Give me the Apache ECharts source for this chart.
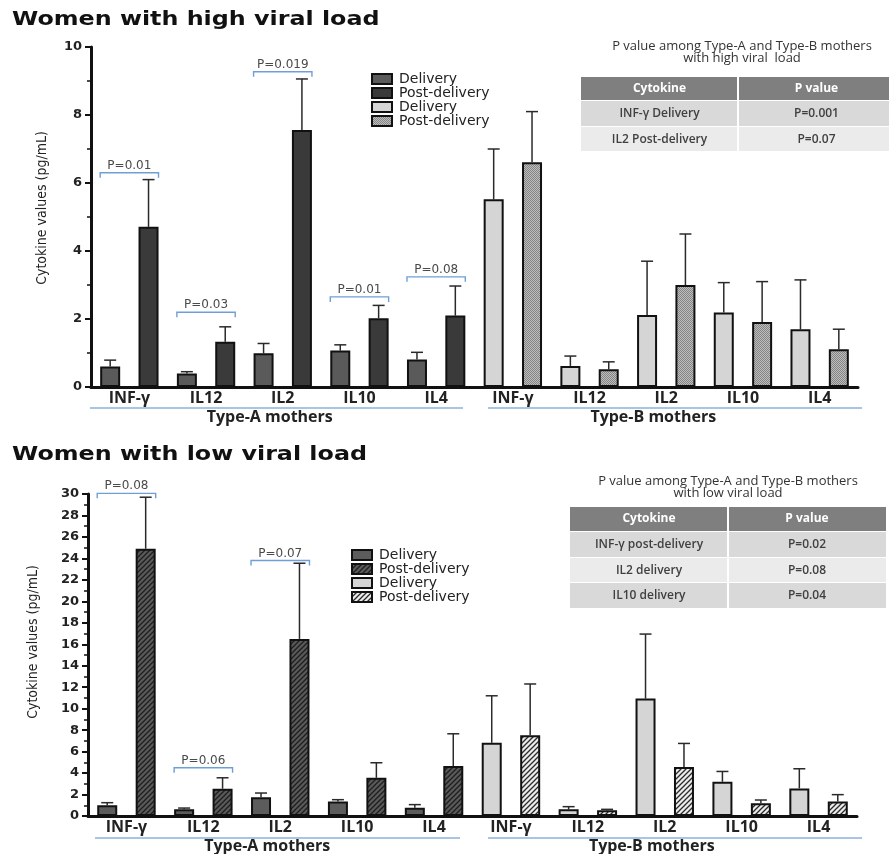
<!DOCTYPE html>
<html>
<head>
<meta charset="utf-8">
<script src="https://cdn.jsdelivr.net/npm/echarts@6/dist/echarts.min.js"></script>
<style>
  html, body { margin: 0; padding: 0; background: #fff; }
  #chart { width: 889px; height: 854px; }
</style>
</head>
<body>
<div id="chart"></div>
<script>
// ---- data ----
const cytokines = ['INF-γ', 'IL12', 'IL2', 'IL10', 'IL4'];
const groupNames = ['Type-A mothers', 'Type-B mothers'];
const legendLabels = ['Delivery', 'Post-delivery', 'Delivery', 'Post-delivery'];
const panelTitles = ['Women with high viral load', 'Women with low viral load'];

// high viral load: mean and SD (pg/mL)
const highADelivery = [0.60, 0.40, 0.99, 1.07, 0.81];
const highADeliverySD = [0.19, 0.05, 0.29, 0.17, 0.21];
const highAPost = [4.71, 1.33, 7.56, 2.02, 2.10];
const highAPostSD = [1.39, 0.44, 1.50, 0.38, 0.87];
const highBDelivery = [5.52, 0.62, 2.12, 2.19, 1.70];
const highBDeliverySD = [1.48, 0.29, 1.58, 0.88, 1.45];
const highBPost = [6.61, 0.52, 3.00, 1.91, 1.11];
const highBPostSD = [1.49, 0.22, 1.50, 1.19, 0.59];

// low viral load: mean and SD (pg/mL)
const lowADelivery = [1.00, 0.62, 1.74, 1.34, 0.78];
const lowADeliverySD = [0.24, 0.12, 0.40, 0.18, 0.28];
const lowAPost = [24.9, 2.54, 16.5, 3.56, 4.65];
const lowAPostSD = [4.8, 1.02, 7.05, 1.40, 3.01];
const lowBDelivery = [6.82, 0.62, 10.94, 3.19, 2.57];
const lowBDeliverySD = [4.38, 0.25, 6.01, 0.96, 1.83];
const lowBPost = [7.53, 0.53, 4.56, 1.18, 1.34];
const lowBPostSD = [4.77, 0.09, 2.20, 0.31, 0.65];

// within-group comparisons: cytokine index, bracket height, p value
const highBrackets = [[0, 6.3, 'P=0.01'], [1, 2.2, 'P=0.03'], [2, 9.27, 'P=0.019'], [3, 2.65, 'P=0.01'], [4, 3.24, 'P=0.08']];
const lowBrackets = [[0, 30.06, 'P=0.08'], [1, 4.5, 'P=0.06'], [2, 23.8, 'P=0.07']];

// between-group p values
const highTableTitle = ['P value among Type-A and Type-B mothers', 'with high viral  load'];
const highTableRows = [['INF-γ Delivery', 'P=0.001'], ['IL2 Post-delivery', 'P=0.07']];
const lowTableTitle = ['P value among Type-A and Type-B mothers', 'with low viral load'];
const lowTableRows = [['INF-γ post-delivery', 'P=0.02'], ['IL2 delivery', 'P=0.08'], ['IL10 delivery', 'P=0.04']];

const tableHeader = ['Cytokine', 'P value'];

// ---- fill patterns ----
function dotPattern(bg, fg) {
  const c = document.createElement('canvas');
  c.width = 2; c.height = 2;
  const g = c.getContext('2d');
  g.fillStyle = bg; g.fillRect(0, 0, 2, 2);
  g.fillStyle = fg; g.fillRect(0, 0, 1, 1); g.fillRect(1, 1, 1, 1);
  return { image: c, repeat: 'repeat' };
}
function hatchPattern(bg, fg, step, lw) {
  const c = document.createElement('canvas');
  c.width = step; c.height = step;
  const g = c.getContext('2d');
  g.fillStyle = bg; g.fillRect(0, 0, step, step);
  g.strokeStyle = fg; g.lineWidth = lw;
  g.beginPath();
  g.moveTo(-1, step + 1); g.lineTo(step + 1, -1);
  g.moveTo(-1, 1); g.lineTo(1, -1);
  g.moveTo(step - 1, step + 1); g.lineTo(step + 1, step - 1);
  g.stroke();
  return { image: c, repeat: 'repeat' };
}

const fills = {
  high: ['#5a5a5a', '#3a3a3a', '#d5d5d5', dotPattern('#bdbdbd', '#858585')],
  low: ['#5c5c5c', hatchPattern('#5a5a5a', '#1e1e1e', 5, 1.3), '#d5d5d5', hatchPattern('#ececec', '#2a2a2a', 5, 1.3)]
};

// ---- helpers ----
const SLOTS = 20;
const slotNames = Array.from({ length: SLOTS }, (_, i) => 's' + i);
const BAR_W = 20;
const NARROW = '"DejaVu Sans Condensed", "Liberation Sans", sans-serif';

function slotData(values, offset) {
  const arr = new Array(SLOTS).fill('-');
  values.forEach((v, i) => { arr[offset + 2 * i] = v; });
  return arr;
}
function errData(values, sd, offset) {
  return values.map((v, i) => [offset + 2 * i, v, v + sd[i]]);
}

function errorBarItem(params, api) {
  const x = api.value(0);
  const p0 = api.coord([x, api.value(1)]);
  const p1 = api.coord([x, api.value(2)]);
  const w = 6;
  const st = { stroke: '#2a2a2a', lineWidth: 1.5 };
  return {
    type: 'group',
    children: [
      { type: 'line', shape: { x1: p0[0], y1: p0[1], x2: p1[0], y2: p1[1] }, style: st },
      { type: 'line', shape: { x1: p1[0] - w, y1: p1[1], x2: p1[0] + w, y2: p1[1] }, style: st }
    ]
  };
}

function bracketRenderer(list) {
  return function (params, api) {
    const a = api.value(0), b = api.value(1), y = api.value(2);
    const pa = api.coord([a, y]), pb = api.coord([b, y]);
    const x1 = pa[0] - BAR_W / 2, x2 = pb[0] + BAR_W / 2, yy = pa[1];
    const st = { stroke: '#6f9fd6', lineWidth: 1.4, fill: null };
    return {
      type: 'group',
      children: [
        { type: 'polyline', shape: { points: [[x1, yy + 5], [x1, yy], [x2, yy], [x2, yy + 5]] }, style: st },
        {
          type: 'text',
          style: {
            x: (x1 + x2) / 2, y: yy - 7, text: list[params.dataIndex][2],
            align: 'center', verticalAlign: 'middle',
            font: '12px "DejaVu Sans"', fill: '#4a4a4a'
          }
        }
      ]
    };
  };
}

function buildPanel(gi, key, sets, brackets, yMax, interval) {
  const names = ['A Delivery', 'A Post-delivery', 'B Delivery', 'B Post-delivery'].map(n => key + ' ' + n);
  const offsets = [0, 1, 10, 11];
  const series = [];
  sets.forEach((s, k) => {
    series.push({
      name: names[k], type: 'bar', xAxisIndex: gi * 3, yAxisIndex: gi,
      data: slotData(s[0], offsets[k]), barWidth: BAR_W, barGap: '-100%',
      itemStyle: { color: fills[key][k], borderColor: '#111', borderWidth: 2 },
      z: 2
    });
  });
  sets.forEach((s, k) => {
    series.push({
      type: 'custom', xAxisIndex: gi * 3, yAxisIndex: gi, renderItem: errorBarItem,
      data: errData(s[0], s[1], offsets[k]), clip: false, z: 1
    });
  });
  series.push({
    type: 'custom', xAxisIndex: gi * 3, yAxisIndex: gi, renderItem: bracketRenderer(brackets),
    data: brackets.map(b => [2 * b[0], 2 * b[0] + 1, b[1]]), clip: false, z: 3
  });

  const xAxes = [
    {
      type: 'category', gridIndex: gi, data: slotNames, position: 'bottom',
      axisLine: { lineStyle: { color: '#111', width: 3 } },
      axisTick: { show: false }, axisLabel: { show: false }
    },
    {
      type: 'category', gridIndex: gi, data: cytokines.concat(cytokines), position: 'bottom', offset: 0,
      axisLine: { show: false }, axisTick: { show: false },
      axisLabel: { margin: 3, fontFamily: 'Open Sans', fontWeight: 'bold', fontSize: 16, color: '#222' }
    },
    {
      type: 'category', gridIndex: gi, data: groupNames, position: 'bottom', offset: 0,
      axisLine: { show: false }, axisTick: { show: false },
      axisLabel: { margin: 22, padding: [0, 26, 0, 0], fontFamily: 'Open Sans', fontWeight: 'bold', fontSize: 16, color: '#222' }
    }
  ];
  const yAxis = {
    type: 'value', gridIndex: gi, min: 0, max: yMax, interval: interval,
    name: 'Cytokine values (pg/mL)', nameLocation: 'middle', nameRotate: 90, nameGap: gi === 0 ? 42 : 48,
    nameTextStyle: { fontFamily: NARROW, fontSize: 14, color: '#222', padding: gi === 0 ? [0, 0, 0, 18] : [0, 0, 0, 26] },
    axisLine: { show: true, lineStyle: { color: '#111', width: 3 } },
    axisTick: { show: true, length: 6, lineStyle: { color: '#111', width: 2 } },
    minorTick: { show: true, splitNumber: 2, length: 4, lineStyle: { color: '#111', width: 1.5 } },
    splitLine: { show: false },
    axisLabel: { margin: 9, fontFamily: 'DejaVu Sans', fontWeight: 'bold', fontSize: 13, color: '#222' }
  };
  return { series, xAxes, yAxis, names };
}

const high = buildPanel(0, 'high', [
  [highADelivery, highADeliverySD], [highAPost, highAPostSD],
  [highBDelivery, highBDeliverySD], [highBPost, highBPostSD]
], highBrackets, 10, 2);
const low = buildPanel(1, 'low', [
  [lowADelivery, lowADeliverySD], [lowAPost, lowAPostSD],
  [lowBDelivery, lowBDeliverySD], [lowBPost, lowBPostSD]
], lowBrackets, 30, 2);

function legendFor(panel, left, top) {
  const map = {};
  panel.names.forEach((n, i) => { map[n] = legendLabels[i]; });
  return {
    data: panel.names, left: left, top: top, orient: 'vertical', icon: 'rect',
    itemWidth: 20, itemHeight: 10, itemGap: 0, selectedMode: false,
    formatter: n => map[n],
    textStyle: { fontFamily: 'DejaVu Sans', fontSize: 14, color: '#222', lineHeight: 13.4, padding: [0, 0, 0, 2] }
  };
}

function tableGraphic(x, y, w1, w2, headH, rowHs, titleLines, titleX, titleY, rows) {
  const els = [];
  titleLines.forEach((t, i) => {
    els.push({ type: 'text', style: { x: titleX, y: titleY + i * 12.5, text: t, align: 'center', verticalAlign: 'middle', font: '13px "Open Sans"', fill: '#333' } });
  });
  els.push({ type: 'rect', shape: { x: x, y: y, width: w1 - 1, height: headH }, style: { fill: '#7f7f7f' } });
  els.push({ type: 'rect', shape: { x: x + w1 + 1, y: y, width: w2 - 1, height: headH }, style: { fill: '#7f7f7f' } });
  els.push({ type: 'text', style: { x: x + w1 / 2, y: y + headH / 2, text: tableHeader[0], align: 'center', verticalAlign: 'middle', font: 'bold 12px "Open Sans"', fill: '#fff' } });
  els.push({ type: 'text', style: { x: x + w1 + w2 / 2, y: y + headH / 2, text: tableHeader[1], align: 'center', verticalAlign: 'middle', font: 'bold 12px "Open Sans"', fill: '#fff' } });
  let yy = y + headH + 1;
  rows.forEach((r, i) => {
    const h = rowHs[i];
    const bg = i % 2 === 0 ? '#d9d9d9' : '#ebebeb';
    els.push({ type: 'rect', shape: { x: x, y: yy, width: w1 - 1, height: h - 1 }, style: { fill: bg } });
    els.push({ type: 'rect', shape: { x: x + w1 + 1, y: yy, width: w2 - 1, height: h - 1 }, style: { fill: bg } });
    els.push({ type: 'text', style: { x: x + w1 / 2, y: yy + h / 2, text: r[0], align: 'center', verticalAlign: 'middle', font: '600 12px "Open Sans"', fill: '#404040' } });
    els.push({ type: 'text', style: { x: x + w1 + w2 / 2, y: yy + h / 2, text: r[1], align: 'center', verticalAlign: 'middle', font: '600 12px "Open Sans"', fill: '#404040' } });
    yy += h;
  });
  return els;
}

function panelTitle(text, y) {
  return {
    type: 'text', x: 12, y: y, scaleX: 1.19, silent: true,
    style: { text: text, font: 'bold 20px "DejaVu Sans"', fill: '#111', verticalAlign: 'middle' }
  };
}

const blue = { stroke: '#8db2dc', lineWidth: 1.5 };
const underline = (x1, x2, y) => ({ type: 'line', shape: { x1, y1: y, x2, y2: y }, style: blue, silent: true });

const option = {
  animation: false,
  backgroundColor: '#fff',
  grid: [
    { left: 91, right: 31, top: 47, height: 340 },
    { left: 88, right: 32, top: 494, height: 323 }
  ],
  xAxis: high.xAxes.concat(low.xAxes),
  yAxis: [high.yAxis, low.yAxis],
  legend: [legendFor(high, 366, 67), legendFor(low, 346, 543)],
  series: high.series.concat(low.series),
  graphic: [
    panelTitle(panelTitles[0], 20),
    panelTitle(panelTitles[1], 455),
    ...tableGraphic(581, 77, 157, 157, 23, [26, 25], highTableTitle, 742, 46, highTableRows),
    ...tableGraphic(570, 507, 158, 158, 24, [26, 25, 26], lowTableTitle, 728, 481, lowTableRows),
    underline(90, 463, 408), underline(488, 862, 408),
    underline(95, 460, 838), underline(488, 862, 838)
  ]
};

const chart = echarts.init(document.getElementById('chart'), null, { renderer: 'canvas' });
chart.setOption(option);
</script>
</body>
</html>
